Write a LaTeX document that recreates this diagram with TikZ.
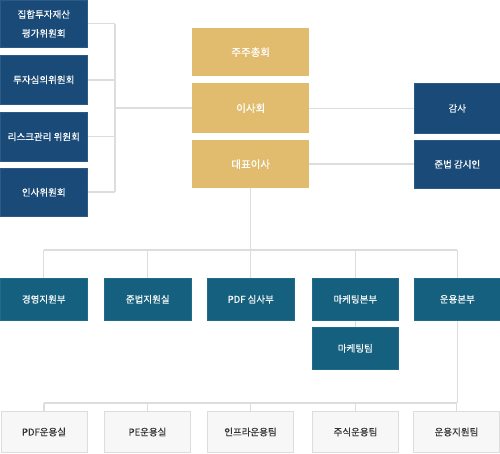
\documentclass[tikz,border=0pt]{standalone}
\usepackage{fontspec}
\newfontfamily\kr[FakeBold=0.35]{Noto Sans CJK KR}
\definecolor{navy}{HTML}{1A4A78}
\definecolor{navyb}{HTML}{2A5A88}
\definecolor{gold}{HTML}{E2BC6E}
\definecolor{teal}{HTML}{14607E}
\definecolor{tealb}{HTML}{1E6C8A}
\definecolor{lgray}{HTML}{F7F7F7}
\definecolor{lborder}{HTML}{DDDDDD}
\definecolor{conn}{HTML}{DDDDDD}
\definecolor{dtext}{HTML}{333333}
\tikzset{
  bx/.style={anchor=north west, inner sep=0pt, align=center, font={\kr\fontsize{9.5}{19}\selectfont}},
  navybox/.style={bx, fill=navy, draw=navyb, line width=0.6pt, text=white},
  goldbox/.style={bx, fill=gold, text=white, font={\kr\fontsize{10.5}{19}\selectfont}},
  tealbox/.style={bx, fill=teal, draw=tealb, line width=0.6pt, text=white},
  graybox/.style={bx, fill=lgray, draw=lborder, line width=1pt, text=dtext},
  cn/.style={draw=conn, line width=1.2pt},
}
\begin{document}
\begin{tikzpicture}[x=1pt,y=-1pt]
\useasboundingbox (0,0) rectangle (500,453);
\coordinate (j) at (115,108);
\coordinate (k) at (250,250);
\coordinate (m) at (457,403);
% left committees
\node[navybox, minimum width=87pt, minimum height=47pt] (c1) at (0,0) {집합투자재산\\평가위원회};
\node[navybox, minimum width=87pt, minimum height=49pt] (c2) at (0,55) {투자심의위원회};
\node[navybox, minimum width=87pt, minimum height=49pt] (c3) at (0,112) {리스크관리 위원회};
\node[navybox, minimum width=87pt, minimum height=48pt] (c4) at (0,168) {인사위원회};
% gold
\node[goldbox, minimum width=117pt, minimum height=48pt] (gm) at (192,28) {주주총회};
\node[goldbox, minimum width=117pt, minimum height=50pt] (bd) at (192,83) {이사회};
\node[goldbox, minimum width=117pt, minimum height=48pt] (ceo) at (192,140) {대표이사};
% right
\node[navybox, minimum width=86pt, minimum height=50pt] (au) at (414,83) {감사};
\node[navybox, minimum width=86pt, minimum height=48pt] (co) at (414,140) {준법 감시인};
% row 2
\node[tealbox, minimum width=87pt, minimum height=42pt] (d1) at (0,278) {경영지원부};
\node[tealbox, minimum width=87pt, minimum height=42pt] (d2) at (104,278) {준법지원실};
\node[tealbox, minimum width=87pt, minimum height=42pt] (d3) at (207,278) {PDF 심사부};
\node[tealbox, minimum width=86pt, minimum height=42pt] (d4) at (312,278) {마케팅본부};
\node[tealbox, minimum width=86pt, minimum height=42pt] (d5) at (414,278) {운용본부};
\node[tealbox, minimum width=86pt, minimum height=42pt] (mt) at (312,327) {마케팅팀};
% bottom
\node[graybox, minimum width=86pt, minimum height=41pt] (t1) at (0.5,411) {PDF운용실};
\node[graybox, minimum width=86pt, minimum height=41pt] (t2) at (104,411) {PE운용실};
\node[graybox, minimum width=86pt, minimum height=41pt] (t3) at (207,411) {인프라운용팀};
\node[graybox, minimum width=86pt, minimum height=41pt] (t4) at (312,411) {주식운용팀};
\node[graybox, minimum width=86pt, minimum height=41pt] (t5) at (413,411) {운용지원팀};
% connectors
\draw[cn] (c1.east) -- (c1.east -| j);
\draw[cn, line width=1.8pt] (c2.east) -- (c2.east -| j);
\draw[cn] (c3.east) -- (c3.east -| j);
\draw[cn, line width=1.8pt] (c4.east) -- (c4.east -| j);
\draw[cn] (c1.east -| j) -- (c4.east -| j);
\draw[cn] (j) -- (j -| bd.west);
\draw[cn] (bd.east) -- (bd.east -| au.west);
\draw[cn, line width=1.8pt] (ceo.east) -- (ceo.east -| co.west);
\draw[cn] (ceo.south) -- (ceo.south |- k);
\draw[cn] (k -| d1.north) -- (k -| d5.north);
\draw[cn] (k -| d1.north) -- (d1.north);
\draw[cn] (k -| d2.north) -- (d2.north);
\draw[cn] (k -| d3.north) -- (d3.north);
\draw[cn] (k -| d4.north) -- (d4.north);
\draw[cn] (k -| d5.north) -- (d5.north);
\draw[cn] (d4.south) -- (mt.north);
\draw[cn] (d5.south) -- (d5.south |- m);
\draw[cn] (m -| t1.north) -- (m -| d5.south);
\draw[cn] (m -| t1.north) -- (t1.north);
\draw[cn] (m -| t2.north) -- (t2.north);
\draw[cn] (m -| t3.north) -- (t3.north);
\draw[cn] (m -| t4.north) -- (t4.north);
\draw[cn] (m -| t5.north) -- (t5.north);
\end{tikzpicture}
\end{document}
